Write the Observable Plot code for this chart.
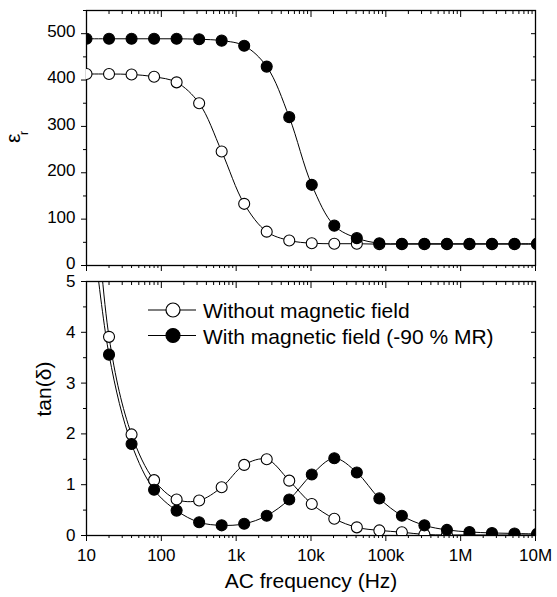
<!DOCTYPE html>
<html><head><meta charset="utf-8">
<script src="https://cdn.jsdelivr.net/npm/d3@7"></script>
<script src="https://cdn.jsdelivr.net/npm/@observablehq/plot@0.6"></script>
<style>
body{margin:0;background:#fff;}
#chart{position:relative;width:557px;height:597px;font-family:"Liberation Sans",Arial,sans-serif;}
#chart svg{display:block;}
#legend{position:absolute;left:0;top:0;}
</style></head><body><div id="chart"></div>
<script>
// ---- data ----
const freqs = [10,20,40,80,160,320,640,1280,2560,5120,10240,20480,40960,81920,163840,327680,655360,1310720,2621440,5242880,10485760];
const epsWithout = [413,413,412,407,395,350,246,133,73,54,48,47,47,46,46,46,46,46,46,46,46];
const epsWith    = [489,489,489,489,489,488,485,474,429,320,174,86,59,48,47,47,47,47,47,47,47];
const tanWithout = [9.5,3.91,1.99,1.09,0.71,0.69,0.95,1.39,1.50,1.08,0.62,0.33,0.16,0.10,0.065,0.02,0.01,0.01,0.01,0.01,0.01];
const tanWith    = [7.2,3.56,1.80,0.90,0.49,0.26,0.20,0.23,0.39,0.71,1.20,1.52,1.24,0.73,0.39,0.20,0.11,0.07,0.05,0.04,0.03];
const seriesNames = ["Without magnetic field","With magnetic field (-90 % MR)"];
const xTickValues = [10,100,1e3,1e4,1e5,1e6,1e7];
const xTickLabels = ["10","100","1k","10k","100k","1M","10M"];
const epsTicks = [0,100,200,300,400,500];
const epsMinorTicks = [50,150,250,350,450,550];
const tanTicks = [0,1,2,3,4,5];
const tanMinorTicks = [0.5,1.5,2.5,3.5,4.5];
const xTitle = "AC frequency (Hz)";
const epsTitle = "ε";
const epsSub = "r";
const tanTitle = "tan(δ)";

// ---- build ----
const font = '"Liberation Sans", Arial, sans-serif';
const fills = ["white","black"];
function rows(a, b) {
  const out = [];
  [a, b].forEach((vals, s) => freqs.forEach((f, i) => out.push({f, v: vals[i], s, fill: fills[s]})));
  return out;
}
const epsRows = rows(epsWithout, epsWith);
const tanRows = rows(tanWithout, tanWith);
const xMinor = d3.scaleLog().domain([10, 1e7]).ticks()
  .filter(v => Math.abs(Math.log10(v) - Math.round(Math.log10(v))) > 1e-6);

function frameMarks(yMajor, yMinor) {
  return [
    Plot.axisY(yMajor, {anchor: "left", tickSize: 5, text: null, label: null}),
    Plot.axisY(yMinor, {anchor: "left", tickSize: 3, text: null, label: null}),
    Plot.axisY(yMajor, {anchor: "right", tickSize: -5, text: null, label: null}),
    Plot.axisY(yMinor, {anchor: "right", tickSize: -3, text: null, label: null}),
    Plot.axisX(xTickValues, {anchor: "bottom", tickSize: 6, text: null, label: null}),
    Plot.axisX(xMinor, {anchor: "bottom", tickSize: 3, text: null, label: null}),
    Plot.axisX(xTickValues, {anchor: "top", tickSize: -6, text: null, label: null}),
    Plot.axisX(xMinor, {anchor: "top", tickSize: -3, text: null, label: null}),
    Plot.frame({stroke: "#000", strokeWidth: 1.3})
  ];
}
function dataMarks(data) {
  return [
    Plot.line(data, {x: "f", y: "v", z: "s", curve: "catmull-rom", stroke: "#000", strokeWidth: 1, clip: true}),
    Plot.dot(data, {x: "f", y: "v", r: 5.5, fill: "fill", stroke: "#000", strokeWidth: 1.1, clip: true})
  ];
}

const topPlot = Plot.plot({
  width: 557, height: 270,
  marginLeft: 86, marginRight: 22, marginTop: 10, marginBottom: 5,
  style: {fontFamily: font, fontSize: "17px", color: "#000", background: "transparent", overflow: "visible"},
  x: {type: "log", domain: [10, 1e7]},
  y: {domain: [0, 550]},
  color: {type: "identity"},
  marks: [
    Plot.axisY(epsTicks, {anchor: "left", tickSize: 0, tickPadding: 11, fontSize: 17, dy: -2, label: null, tickFormat: d => String(d)}),
    ...frameMarks(epsTicks, epsMinorTicks),
    ...dataMarks(epsRows),
    Plot.text([epsTitle], {frameAnchor: "left", text: d => d, rotate: -90, dx: -73, dy: 5, fontSize: 21}),
    Plot.text([epsSub], {frameAnchor: "left", text: d => d, rotate: -90, dx: -62, dy: -3, fontSize: 12})
  ]
});

const bottomPlot = Plot.plot({
  width: 557, height: 327,
  marginLeft: 86, marginRight: 22, marginTop: 11, marginBottom: 62,
  style: {fontFamily: font, fontSize: "17px", color: "#000", background: "transparent", overflow: "visible"},
  x: {type: "log", domain: [10, 1e7]},
  y: {domain: [0, 5]},
  color: {type: "identity"},
  marks: [
    Plot.axisY(tanTicks, {anchor: "left", tickSize: 0, tickPadding: 11, fontSize: 17, dy: 0, label: null, tickFormat: d => String(d)}),
    Plot.axisX(xTickValues, {anchor: "bottom", tickSize: 0, tickPadding: 13, fontSize: 17, label: null,
      tickFormat: d => xTickLabels[xTickValues.indexOf(d)]}),
    ...frameMarks(tanTicks, tanMinorTicks),
    ...dataMarks(tanRows),
    Plot.text([tanTitle], {frameAnchor: "left", text: d => d, rotate: -90, dx: -42, dy: 8, fontSize: 21}),
    Plot.text([xTitle], {frameAnchor: "bottom", text: d => d, lineAnchor: "top", dy: 38, fontSize: 21})
  ]
});

const chart = document.getElementById("chart");
chart.append(topPlot, bottomPlot);

// legend overlay
const leg = d3.select(chart).append("svg").attr("id", "legend")
  .attr("width", 557).attr("height", 597)
  .style("font-family", font).style("font-size", "21px");
seriesNames.forEach((name, i) => {
  const cy = 310 + i * 25.5;
  const g = leg.append("g");
  g.append("line").attr("x1", 148).attr("x2", 196).attr("y1", cy).attr("y2", cy).attr("stroke", "#000").attr("stroke-width", 1.2);
  g.append("circle").attr("cx", 173).attr("cy", cy).attr("r", 7).attr("fill", fills[i]).attr("stroke", "#000").attr("stroke-width", 1.2);
  g.append("text").attr("x", 203).attr("y", cy + 8).text(name);
});
</script></body></html>
